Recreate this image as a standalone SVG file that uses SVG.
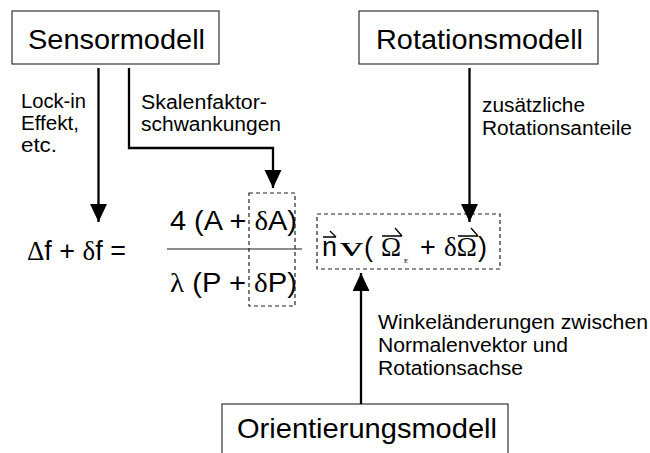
<svg xmlns="http://www.w3.org/2000/svg" width="650" height="453" viewBox="0 0 650 453">
  <defs>
    <marker id="arrow" markerWidth="18" markerHeight="18" refX="18" refY="8.5" orient="auto" markerUnits="userSpaceOnUse">
      <path d="M0,0 L18,8.5 L0,17 Z" fill="#000"/>
    </marker>
    <style>
      .box { fill: #fff; stroke: #333; stroke-width: 1.2; }
      .title { font-family: "Liberation Sans", Arial, sans-serif; font-size: 28px; fill: #000; }
      .label { font-family: "Liberation Sans", Arial, sans-serif; font-size: 19.5px; fill: #000; }
      .eq { font-family: "Liberation Sans", Arial, sans-serif; font-size: 27px; fill: #000; }
      .sym { font-family: "Liberation Serif", "Times New Roman", serif; }
      .conn { fill: none; stroke: #000; stroke-width: 2.3; }
      .dash { fill: none; stroke: #222; stroke-width: 1.2; stroke-dasharray: 4 3; }
      .vec { fill: none; stroke: #000; stroke-width: 1.3; }
    </style>
  </defs>

  <!-- model boxes -->
  <g id="sensormodell">
    <rect class="box" x="12" y="11" width="207" height="53"/>
    <text class="title" x="28" y="49" textLength="177" lengthAdjust="spacingAndGlyphs">Sensormodell</text>
  </g>
  <g id="rotationsmodell">
    <rect class="box" x="359" y="11" width="239" height="53"/>
    <text class="title" x="376" y="49" textLength="207" lengthAdjust="spacingAndGlyphs">Rotationsmodell</text>
  </g>
  <g id="orientierungsmodell">
    <rect class="box" x="222" y="404" width="286" height="60"/>
    <text class="title" x="237" y="438" textLength="260" lengthAdjust="spacingAndGlyphs">Orientierungsmodell</text>
  </g>

  <!-- fraction -->
  <g id="formel">
    <text class="eq" x="27" y="260" textLength="99" lengthAdjust="spacingAndGlyphs"><tspan class="sym">Δ</tspan>f + <tspan class="sym">δ</tspan>f =</text>
    <line x1="167" y1="249" x2="302" y2="249" stroke="#666" stroke-width="1.6"/>
    <text class="eq" x="170" y="230" textLength="127" lengthAdjust="spacingAndGlyphs">4 (A + <tspan class="sym">δ</tspan>A)</text>
    <text class="eq" x="170" y="292" textLength="127" lengthAdjust="spacingAndGlyphs"><tspan class="sym">λ</tspan> (P + <tspan class="sym">δ</tspan>P)</text>
    <rect class="dash" x="249" y="193" width="46" height="113"/>
  </g>

  <!-- vector term -->
  <g id="vektorterm">
    <rect class="dash" x="317" y="214" width="183" height="55"/>
    <text class="eq" x="322" y="256">n</text>
    <text class="eq sym" x="340" y="256" font-size="27" textLength="23" lengthAdjust="spacingAndGlyphs">v</text>
    <text class="eq" x="364" y="256" font-size="29">(</text>
    <text class="eq sym" x="381" y="256" font-size="29">Ω</text>
    <text class="sym" x="404" y="263" font-size="7">E</text>
    <text class="eq" x="420" y="256">+</text>
    <text class="eq sym" x="444" y="256" font-size="29">δΩ</text>
    <text class="eq" x="478" y="256" font-size="29">)</text>
    <path class="vec" d="M323,237 H336 M330,231 L336,237"/>
    <path class="vec" d="M382,236 H402 M395,228 L402,236"/>
    <path class="vec" d="M458,236 H478 M471,228 L478,236"/>
  </g>

  <!-- connectors -->
  <g id="connectors">
    <line class="conn" x1="98.5" y1="68" x2="98.5" y2="222" marker-end="url(#arrow)"/>
    <path class="conn" d="M129,68 V148 H273 V188" marker-end="url(#arrow)"/>
    <line class="conn" x1="469.5" y1="68" x2="469.5" y2="222" marker-end="url(#arrow)"/>
    <line class="conn" x1="361" y1="404" x2="361" y2="273" marker-end="url(#arrow)"/>
  </g>

  <!-- connector labels -->
  <g id="labels">
    <text class="label" x="21" y="108" textLength="65" lengthAdjust="spacingAndGlyphs">Lock-in</text>
    <text class="label" x="21" y="130" textLength="58" lengthAdjust="spacingAndGlyphs">Effekt,</text>
    <text class="label" x="21" y="152" textLength="36" lengthAdjust="spacingAndGlyphs">etc.</text>
    <text class="label" x="141" y="109" textLength="126" lengthAdjust="spacingAndGlyphs">Skalenfaktor-</text>
    <text class="label" x="141" y="131" textLength="140" lengthAdjust="spacingAndGlyphs">schwankungen</text>
    <text class="label" x="482" y="112" textLength="103" lengthAdjust="spacingAndGlyphs">zusätzliche</text>
    <text class="label" x="482" y="135" textLength="150" lengthAdjust="spacingAndGlyphs">Rotationsanteile</text>
    <text class="label" x="378" y="329" textLength="270" lengthAdjust="spacingAndGlyphs">Winkeländerungen zwischen</text>
    <text class="label" x="378" y="352" textLength="190" lengthAdjust="spacingAndGlyphs">Normalenvektor und</text>
    <text class="label" x="378" y="375" textLength="145" lengthAdjust="spacingAndGlyphs">Rotationsachse</text>
  </g>
</svg>
